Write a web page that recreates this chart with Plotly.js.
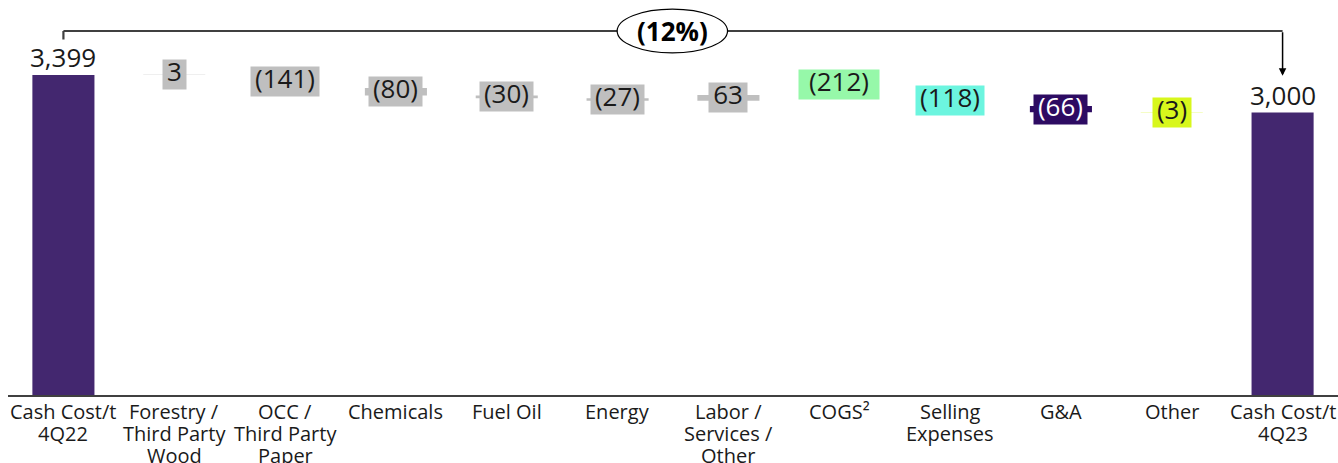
<!DOCTYPE html>
<html>
<head>
<meta charset="utf-8">
<script src="https://cdn.plot.ly/plotly-3.0.1.min.js"></script>
<style>
  html, body { margin: 0; padding: 0; background: #ffffff; }
  #chart { width: 1338px; height: 463px; }
</style>
</head>
<body>
<div id="chart"></div>
<script>
// Cash cost per tonne bridge, 4Q22 to 4Q23 (R$/t)
const categories = [
  'Cash Cost/t<br>4Q22',
  'Forestry /<br>Third Party<br>Wood',
  'OCC /<br>Third Party<br>Paper',
  'Chemicals',
  'Fuel Oil',
  'Energy',
  'Labor /<br>Services /<br>Other',
  'COGS²',
  'Selling<br>Expenses',
  'G&A',
  'Other',
  'Cash Cost/t<br>4Q23'
];
const values = [3399, 3, -141, -80, -30, -27, 63, -212, -118, -66, -3, 3000];
const kinds = ['total', 'delta', 'delta', 'delta', 'delta', 'delta', 'delta',
               'subtotal', 'delta', 'delta', 'delta', 'total'];
const barColors = ['#43276f', '#bfbfbf', '#bfbfbf', '#bfbfbf', '#bfbfbf', '#bfbfbf', '#bfbfbf',
                   '#96f8a9', '#6cf5df', '#2d0b62', '#d8f71c', '#43276f'];
const labelTextColors = ['#1a1a1a', '#1a1a1a', '#1a1a1a', '#1a1a1a', '#1a1a1a', '#1a1a1a', '#1a1a1a',
                         '#1a1a1a', '#1a1a1a', '#ffffff', '#1a1a1a', '#1a1a1a'];
// horizontal padding of each label box
const labelPadX = [0, 4, 4, 4, 4, 4, 4, 10, 4, 4, 4, 0];

const FONT = 'Open Sans';
const VALUE_SIZE = 26;
const TICK_SIZE = 20;

// Floating bar geometry: each step starts where the running total stands
const bases = [];
const heights = [];
let running = 0;
let groupStart = 0;
values.forEach((v, i) => {
  if (kinds[i] === 'total') {
    bases.push(0);
    heights.push(v);
    running = v;
    groupStart = v;
  } else if (kinds[i] === 'subtotal') {
    bases.push(groupStart);
    heights.push(running - groupStart);
  } else {
    bases.push(running);
    heights.push(v);
    running += v;
  }
});

function fmt(v, kind) {
  if (kind === 'total') return v.toLocaleString('en-US');
  return v < 0 ? '(' + Math.abs(v).toLocaleString('en-US') + ')' : String(v);
}

const ctx = document.createElement('canvas').getContext('2d');
function textWidth(s, size) {
  ctx.font = size + 'px "' + FONT + '"';
  return ctx.measureText(s).width;
}

const trace = {
  type: 'bar',
  x: categories,
  y: heights,
  base: bases,
  width: 0.56,
  marker: { color: barColors, line: { width: 0 } },
  hoverinfo: 'skip',
  showlegend: false
};

const annotations = values.map((v, i) => {
  const k = kinds[i];
  const txt = fmt(v, k);
  if (k === 'total') {
    return {
      x: categories[i], y: v, xref: 'x', yref: 'y',
      text: txt, showarrow: false, yanchor: 'bottom', yshift: -2,
      font: { family: FONT, size: VALUE_SIZE, color: labelTextColors[i] }
    };
  }
  return {
    x: categories[i], y: bases[i] + heights[i] / 2, xref: 'x', yref: 'y',
    text: txt, showarrow: false, yanchor: 'middle',
    bgcolor: barColors[i], borderpad: 0, height: 29, valign: 'bottom',
    width: Math.round(textWidth(txt, VALUE_SIZE) + 2 * labelPadX[i]),
    font: { family: FONT, size: VALUE_SIZE, color: labelTextColors[i] }
  };
});

// Category labels, one line per annotation for tight line spacing
categories.forEach((c) => {
  c.split('<br>').forEach((line, j) => {
    annotations.push({
      x: c, xref: 'x', y: 0, yref: 'paper',
      text: line, showarrow: false, yanchor: 'middle',
      yshift: -(16 + 22 * j),
      font: { family: FONT, size: TICK_SIZE, color: '#1a1a1a' }
    });
  });
});

// Overall change between the two totals
const first = values[0];
const last = values[values.length - 1];
const pct = Math.round((last - first) / first * 100);
const pctText = pct < 0 ? '(' + Math.abs(pct) + '%)' : pct + '%';

const bracketY = 0.9215;
annotations.push({
  x: 0.4995, xref: 'paper', y: bracketY, yref: 'paper',
  text: '<b>' + pctText + '</b>', showarrow: false, yanchor: 'middle', xanchor: 'center',
  font: { family: FONT, size: 26, color: '#000000' }
});
annotations.push({
  x: categories[categories.length - 1], xref: 'x', y: 0.808, yref: 'paper',
  ax: 0, ay: -45, axref: 'pixel', ayref: 'pixel',
  text: '', showarrow: true, arrowhead: 2, arrowsize: 1, arrowwidth: 1.5,
  arrowcolor: '#000000'
});

const shapes = [
  { type: 'line', xref: 'x', yref: 'paper', x0: categories[0], x1: categories[categories.length - 1],
    y0: bracketY, y1: bracketY, line: { color: '#404040', width: 2.2 } },
  { type: 'line', xref: 'x', yref: 'paper', x0: categories[0], x1: categories[0],
    y0: bracketY, y1: 0.9, line: { color: '#404040', width: 2.2 } },
  { type: 'circle', xref: 'paper', yref: 'paper', x0: 0.458, x1: 0.541, y0: 0.866, y1: 0.977,
    fillcolor: '#ffffff', line: { color: '#000000', width: 1.2 }, layer: 'above' }
];

const layout = {
  width: 1338,
  height: 463,
  margin: { l: 8, r: 0, t: 0, b: 68 },
  paper_bgcolor: '#ffffff',
  plot_bgcolor: '#ffffff',
  xaxis: {
    type: 'category',
    showgrid: false,
    zeroline: false,
    showline: true,
    linecolor: '#404040',
    linewidth: 1.5,
    ticks: '',
    showticklabels: false,
    fixedrange: true
  },
  yaxis: {
    range: [0, 4195],
    visible: false,
    showgrid: false,
    zeroline: false,
    fixedrange: true
  },
  shapes: shapes,
  annotations: annotations
};

Plotly.newPlot('chart', [trace], layout, { displayModeBar: false, staticPlot: true });
</script>
</body>
</html>
